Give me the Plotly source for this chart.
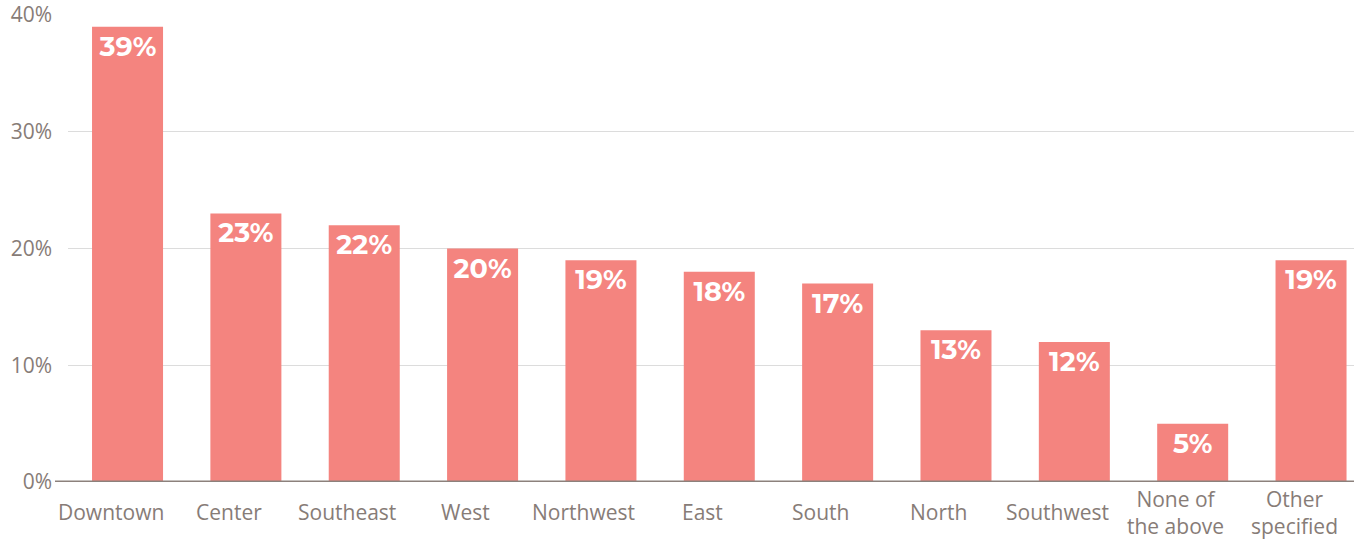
import plotly.graph_objects as go

categories = ["Downtown", "Center", "Southeast", "West", "Northwest", "East",
              "South", "North", "Southwest", "None of<br>the above", "Other<br>specified"]
values = [39, 23, 22, 20, 19, 18, 17, 13, 12, 5, 19]
y_ticks = [0, 10, 20, 30, 40]
y_tick_labels = ["0%", "10%", "20%", "30%", "40%"]

bar_color = "#F4847F"
text_gray = "#877C77"
font_family = "'Open Sans', Lato, sans-serif"

xs = list(range(len(categories)))

fig = go.Figure(
    go.Bar(
        x=xs,
        y=values,
        marker=dict(color=bar_color, line=dict(width=0)),
        text=[f"{v}%" for v in values],
        textposition="inside",
        insidetextanchor="end",
        textangle=0,
        textfont=dict(color="white", size=27, family="Montserrat, Lato, sans-serif", weight="bold"),
        cliponaxis=False,
    )
)

fig.update_layout(
    width=1354,
    height=540,
    margin=dict(l=68, r=0, t=15, b=58),
    paper_bgcolor="white",
    plot_bgcolor="white",
    bargap=0.4,
    showlegend=False,
    font=dict(family=font_family, color=text_gray, size=20),
)

fig.update_xaxes(
    range=[-0.503, 10.363],
    showgrid=False,
    showline=False,
    zeroline=False,
    showticklabels=False,
    ticks="",
)

fig.update_yaxes(
    range=[0, 40],
    tickmode="array",
    tickvals=y_ticks,
    ticktext=y_tick_labels,
    showgrid=True,
    gridcolor="#DCDCDC",
    gridwidth=1,
    zeroline=False,
    showline=False,
    ticks="",
    ticklabelstandoff=15,
    tickfont=dict(size=21, color=text_gray, family=font_family),
)

# Category labels, vertically centred below the bars
for x, label in zip(xs, categories):
    fig.add_annotation(
        x=x, xref="x", y=0, yref="paper",
        text=label, showarrow=False,
        yanchor="middle", yshift=-30, xshift=-17,
        font=dict(size=21, color=text_gray, family=font_family),
    )

# Baseline under the bars, extending slightly past the gridlines on the left
fig.add_shape(
    type="line", xref="paper", yref="y",
    x0=-13 / 1286, x1=1, y0=0, y1=0,
    line=dict(color="#8C817C", width=3),
    layer="above",
)

fig.write_html("out.html")
